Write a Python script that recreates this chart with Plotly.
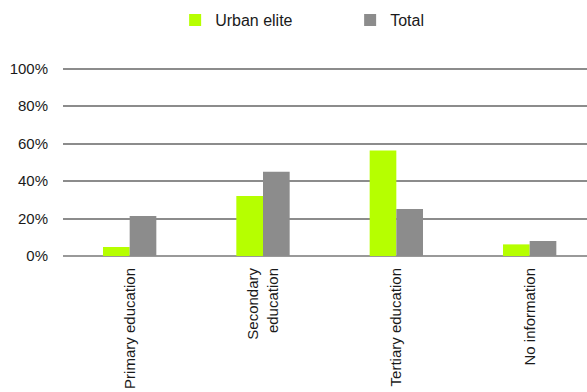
import plotly.graph_objects as go

# Education level shares by group
categories = ["Primary education", "Secondary<br>education", "Tertiary education", "No information"]
urban_elite = [0.048, 0.32, 0.563, 0.062]
total = [0.214, 0.449, 0.251, 0.080]
y_ticks = [0, 0.2, 0.4, 0.6, 0.8, 1.0]

GREEN = "#b6ff00"
GREY = "#8c8c8c"
FONT = "Liberation Sans, Arial, sans-serif"

fig = go.Figure()
fig.add_trace(go.Bar(name="Urban elite", x=categories, y=urban_elite,
                     marker=dict(color=GREEN, line=dict(width=0))))
fig.add_trace(go.Bar(name="Total", x=categories, y=total,
                     marker=dict(color=GREY, line=dict(width=0))))

fig.update_layout(
    width=587, height=392,
    margin=dict(l=63, r=0, t=65, b=136, autoexpand=False),
    paper_bgcolor="white", plot_bgcolor="white",
    barmode="group", bargap=0.6, bargroupgap=0,
    font=dict(family=FONT, size=15, color="#1a1a1a"),
    legend=dict(orientation="h", x=0.214, xanchor="left", y=1.3246, yanchor="top",
                font=dict(size=16), entrywidth=130, itemwidth=30,
                bgcolor="rgba(0,0,0,0)"),
    showlegend=True,
)
fig.update_xaxes(range=[-0.5, 3.43], tickangle=-90, ticks="", showgrid=False,
                 showline=False, zeroline=False, ticklabelstandoff=8,
                 tickfont=dict(size=15))
# Headroom above 100% keeps the top gridline inside the plot area
fig.update_yaxes(range=[0, 1.0187], tickvals=y_ticks, tickformat=".0%",
                 showgrid=True, gridcolor=GREY, gridwidth=2,
                 zeroline=True, zerolinecolor="#999999", zerolinewidth=2,
                 showline=False, ticks="", ticklabelstandoff=14,
                 tickfont=dict(size=15))

fig.write_html("out.html")
